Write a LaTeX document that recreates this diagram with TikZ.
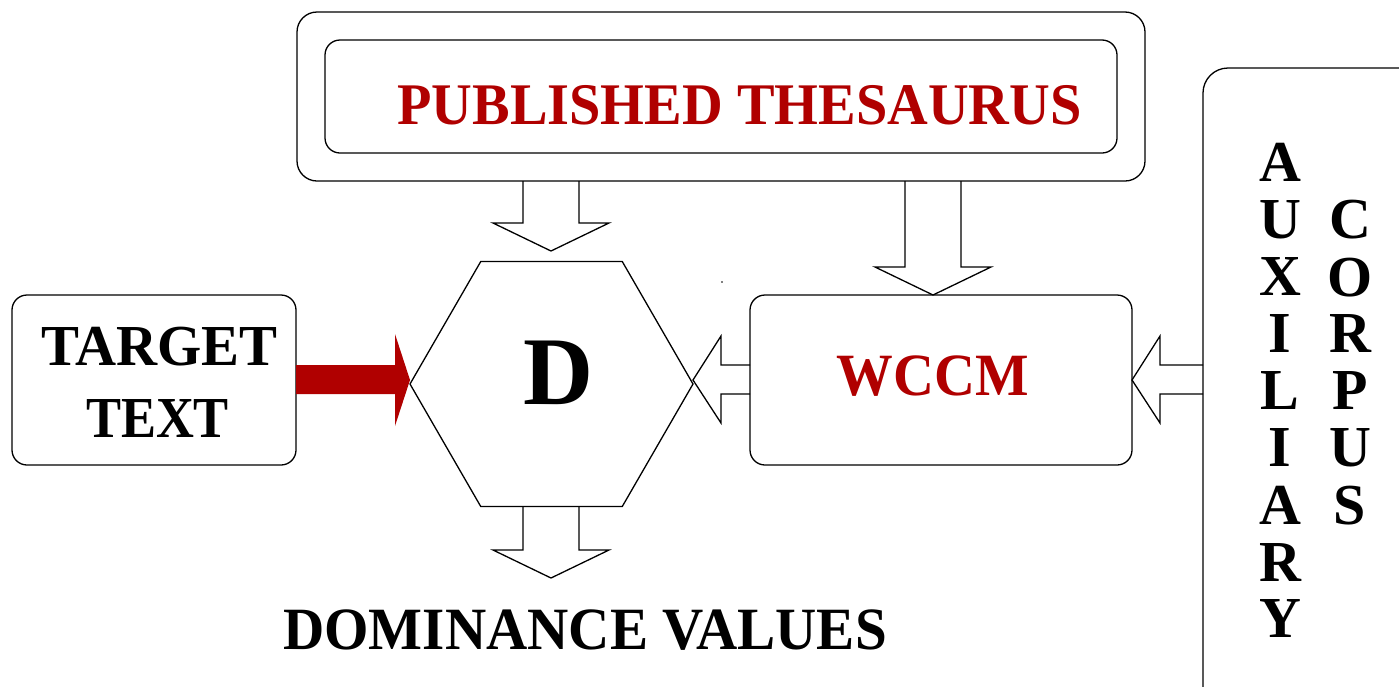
\documentclass[tikz,border=0pt]{standalone}
\usepackage{graphicx}
\usepackage{fontspec}
\setmainfont{Liberation Serif}
\definecolor{dred}{HTML}{B00000}
\begin{document}
\begin{tikzpicture}[x=1pt,y=-1pt, line width=1.3pt,
  box/.style={draw, rounded corners=15pt, inner sep=0pt},
  blk/.style={draw, line join=miter},
  lbl/.style={inner sep=0pt, text depth=0pt, font=\bfseries\fontsize{#1}{#1}\selectfont},
  lbl/.default=60]
\useasboundingbox (0,0) rectangle (1399,686);
% boxes
\node[box, rounded corners=20pt, minimum width=848pt, minimum height=169pt] (thes) at (721,96.5) {};
\node[box, minimum width=792pt, minimum height=113pt] (inner) at (721,96.5) {};
\node[lbl=59, text=dred] (thesl) at (739.5,104.5) {\scalebox{0.955}[1]{PUBLISHED THESAURUS}};
\node[box, minimum width=284pt, minimum height=170pt] (target) at (154,380) {};
\node[box, minimum width=382pt, minimum height=170pt] (wccm) at (941,380) {};
\node[lbl, text=dred] (wccml) at (932.5,376) {\scalebox{0.945}[1]{WCCM}};
\draw[rounded corners=25pt] (1420,68) -- (1203,68) -- (1203,720) -- (1420,720);
\coordinate (aux) at (1203,380);
% hexagon
\draw[line join=miter] (410,384) -- (480.75,261.5) -- (622.25,261.5) -- (693,384) -- (622.25,506.5) -- (480.75,506.5) -- cycle;
\coordinate (hex) at (551.5,384);
\node[lbl=97] (dl) at (559,373) {D};
% texts
\node[lbl=58, anchor=base] (t1) at (159.5,365) {\scalebox{0.98}[1]{TARGET}};
\node[lbl=58, anchor=base] (t2) at (157.5,437) {\scalebox{0.905}[1]{TEXT}};
\node[lbl] (dom) at (585,630) {\scalebox{0.952}[1]{DOMINANCE VALUES}};
\foreach \l/\y [count=\i] in {A/162.5,U/219.5,X/277,I/334,L/391,I/448,A/505,R/562,Y/618}
  \node[lbl=58] (a\i) at (1280,\y) {\l};
\foreach \l/\y [count=\i] in {C/219.5,O/277,R/334,P/391,U/448,S/505}
  \node[lbl=58] (c\i) at (1350,\y) {\l};
% block arrows
\draw[blk] (523,181) -- (523,223) -- (493,223) -- (551,251) -- (609,223) -- (579,223) -- (579,181);
\draw[blk] (523,506.5) -- (523,550) -- (493,550) -- (551,578) -- (609,550) -- (579,550) -- (579,506.5);
\draw[blk] (905,181) -- (905,267) -- (875,267) -- (933,295) -- (991,267) -- (961,267) -- (961,181);
\draw[blk] (750,365) -- (721,365) -- (721,336) -- (693,380) -- (721,423) -- (721,394) -- (750,394);
\draw[blk] (1203,365) -- (1160,365) -- (1160,336) -- (1132,380) -- (1160,423) -- (1160,394) -- (1203,394);
\fill[dred] (296,365) -- (395,365) -- (395,334) -- (410,380) -- (395,426) -- (395,394) -- (296,394) -- cycle;
\fill (722,282) circle (0.8pt);
\end{tikzpicture}
\end{document}
